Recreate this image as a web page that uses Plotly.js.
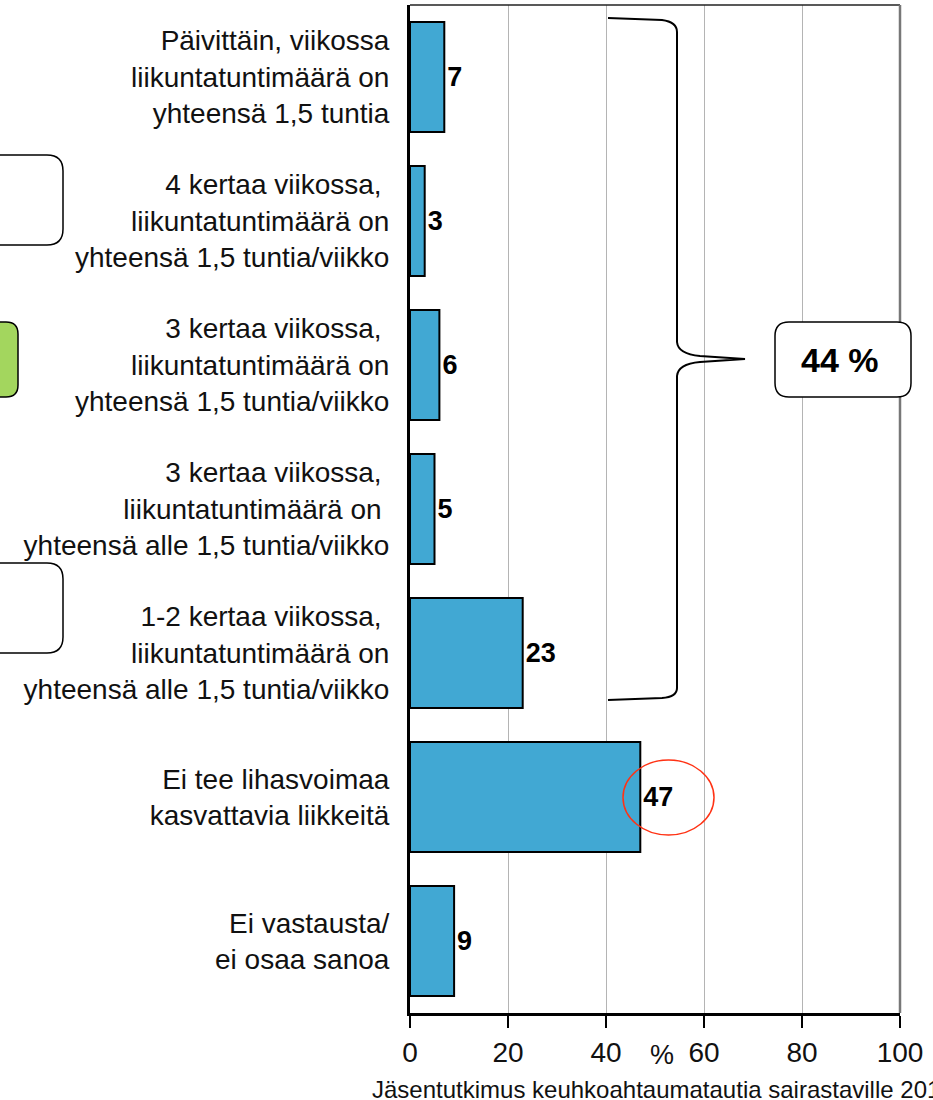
<!DOCTYPE html>
<html>
<head>
<meta charset="utf-8">
<script src="https://cdn.plot.ly/plotly-3.0.1.min.js"></script>
<style>
  html, body { margin: 0; padding: 0; background: #fff; }
  #chart { width: 933px; height: 1100px; }
</style>
</head>
<body>
<div id="chart"></div>
<script>
const categories = [
  'Päivittäin, viikossa<br>liikuntatuntimäärä on<br>yhteensä 1,5 tuntia',
  '4 kertaa viikossa, <br>liikuntatuntimäärä on<br>yhteensä 1,5 tuntia/viikko',
  '3 kertaa viikossa, <br>liikuntatuntimäärä on<br>yhteensä 1,5 tuntia/viikko',
  '3 kertaa viikossa, <br>liikuntatuntimäärä on <br>yhteensä alle 1,5 tuntia/viikko',
  '1-2 kertaa viikossa, <br>liikuntatuntimäärä on<br>yhteensä alle 1,5 tuntia/viikko',
  'Ei tee lihasvoimaa<br>kasvattavia liikkeitä',
  'Ei vastausta/<br>ei osaa sanoa',
];
const values = [7, 3, 6, 5, 23, 47, 9];
const xTicks = [0, 20, 40, 60, 80, 100];
const groupTotal = '44 %';
const sourceText = 'Jäsentutkimus keuhkoahtaumatautia sairastaville 2011';

const W = 933, H = 1100;
const M = { l: 410, r: 33, t: 5, b: 87 };
// pixel -> paper helpers for the decorations
const X = (px) => (px - M.l) / (W - M.l - M.r);
const Y = (py) => (H - M.b - py) / (H - M.t - M.b);
const P = (px, py) => `${X(px).toFixed(5)},${Y(py).toFixed(5)}`;

function roundRect(x0, y0, x1, y1, r) {
  return `M${P(x0 + r, y0)} L${P(x1 - r, y0)} Q${P(x1, y0)} ${P(x1, y0 + r)}` +
    ` L${P(x1, y1 - r)} Q${P(x1, y1)} ${P(x1 - r, y1)}` +
    ` L${P(x0 + r, y1)} Q${P(x0, y1)} ${P(x0, y1 - r)}` +
    ` L${P(x0, y0 + r)} Q${P(x0, y0)} ${P(x0 + r, y0)} Z`;
}

// curly brace spanning the first five bars
const brace = `M${P(608, 18)} L${P(662, 20)} Q${P(677, 22)} ${P(677, 32)}` +
  ` L${P(677, 342)} Q${P(678, 354)} ${P(700, 356)} L${P(745, 359)}` +
  ` L${P(700, 362)} Q${P(678, 364)} ${P(677, 376)}` +
  ` L${P(677, 688)} Q${P(677, 697)} ${P(662, 698)} L${P(608, 700)}`;

const FONT = 'Liberation Sans, Arial, sans-serif';

const trace = {
  type: 'bar', orientation: 'h',
  y: categories, x: values,
  marker: { color: '#41a8d3', line: { color: '#000', width: 2 } },
  texttemplate: '<b>%{x}</b>', textposition: 'outside',
  constraintext: 'none', cliponaxis: false,
  textfont: { family: FONT, size: 27, color: '#000' },
  hoverinfo: 'skip',
};

const layout = {
  width: W, height: H,
  margin: M,
  paper_bgcolor: '#fff', plot_bgcolor: '#fff',
  font: { family: FONT, color: '#111' },
  showlegend: false,
  bargap: 0.236,
  xaxis: {
    range: [0, 100], tickvals: xTicks, ticktext: xTicks.map(String),
    ticks: 'outside', ticklen: 12, tickwidth: 1.5, tickcolor: '#000',
    tickfont: { size: 28, color: '#111' },
    showgrid: true, gridcolor: '#b4b4b4', gridwidth: 1,
    showline: true, linecolor: '#000', linewidth: 3,
    zeroline: false, fixedrange: true,
  },
  yaxis: {
    type: 'category', autorange: 'reversed',
    ticks: 'outside', ticklen: 12, tickcolor: 'rgba(0,0,0,0)',
    tickfont: { size: 28, color: '#111' },
    showline: true, linecolor: '#000', linewidth: 3,
    showgrid: false, zeroline: false, fixedrange: true,
  },
  shapes: [
    // frame top / right
    { type: 'line', xref: 'paper', yref: 'paper', x0: 0, x1: 1, y0: 1, y1: 1,
      line: { color: '#222', width: 1.5 } },
    { type: 'line', xref: 'paper', yref: 'paper', x0: 1, x1: 1, y0: 0, y1: 1,
      line: { color: '#777', width: 2.5 } },
    // brace + total box
    { type: 'path', xref: 'paper', yref: 'paper', path: brace,
      line: { color: '#000', width: 2 } },
    { type: 'path', xref: 'paper', yref: 'paper', path: roundRect(775, 322, 911, 397, 14),
      fillcolor: '#fff', line: { color: '#000', width: 1.5 } },
    // red circle around the largest value
    { type: 'circle', xref: 'paper', yref: 'paper',
      x0: X(623), x1: X(714), y0: Y(835), y1: Y(760),
      line: { color: '#ff3214', width: 1.5 } },
    // boxes cut off at the left edge
    { type: 'path', xref: 'paper', yref: 'paper', path: roundRect(-40, 155, 63, 245, 16),
      fillcolor: '#fff', line: { color: '#000', width: 1.5 } },
    { type: 'path', xref: 'paper', yref: 'paper', path: roundRect(-40, 322, 18, 397, 12),
      fillcolor: '#a3d65e', line: { color: '#000', width: 1.5 } },
    { type: 'path', xref: 'paper', yref: 'paper', path: roundRect(-40, 563, 63, 653, 16),
      fillcolor: '#fff', line: { color: '#000', width: 1.5 } },
  ],
  annotations: [
    { xref: 'paper', yref: 'paper', x: X(840), y: Y(360), xanchor: 'center', yanchor: 'middle',
      text: '<b>' + groupTotal + '</b>',
      showarrow: false, font: { size: 34, color: '#000' } },
    { xref: 'paper', yref: 'paper', x: X(662), y: Y(1055), xanchor: 'center', yanchor: 'middle',
      text: '%', showarrow: false, font: { size: 27, color: '#111' } },
    { xref: 'paper', yref: 'paper', x: X(370), y: Y(1089), xanchor: 'left', yanchor: 'middle',
      text: sourceText, showarrow: false, font: { size: 24, color: '#111' } },
  ],
};

Plotly.newPlot('chart', [trace], layout, { displayModeBar: false, staticPlot: true });
</script>
</body>
</html>
